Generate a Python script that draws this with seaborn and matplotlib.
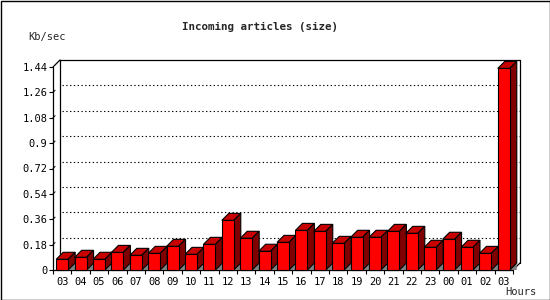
import matplotlib
matplotlib.use("Agg")
import matplotlib.pyplot as plt
import seaborn as sns
from matplotlib.patches import Polygon, Rectangle

sns.set_theme(style="white")
plt.rcParams["font.family"] = ["DejaVu Sans Mono"]

# Data
hours = ["03", "04", "05", "06", "07", "08", "09", "10", "11", "12", "13", "14", "15",
         "16", "17", "18", "19", "20", "21", "22", "23", "00", "01", "02", "03"]
kbsec = [0.076, 0.090, 0.076, 0.125, 0.104, 0.118, 0.168, 0.111, 0.182, 0.352, 0.225, 0.133, 0.196,
         0.281, 0.274, 0.189, 0.232, 0.232, 0.274, 0.260, 0.161, 0.218, 0.161, 0.118, 1.43]
yticks = [0, 0.18, 0.36, 0.54, 0.72, 0.9, 1.08, 1.26, 1.44]
ylabels = ["0", "0.18", "0.36", "0.54", "0.72", "0.9", "1.08", "1.26", "1.44"]
slots = list(range(len(hours)))

W, H = 550, 300
fig = plt.figure(figsize=(W / 100, H / 100), dpi=100)
fig.patch.set_facecolor("white")
fig.patches.append(Rectangle((0.5 / W, 0.5 / H), 1 - 1 / W, 1 - 1 / H, transform=fig.transFigure,
                             fill=False, edgecolor="black", linewidth=1.0))

# front plane of the 3d box, in pixels
x_left, x_right, y_bot, y_top = 53, 513, 270, 67
ax = fig.add_axes([x_left / W, (H - y_bot) / H, (x_right - x_left) / W, (y_bot - y_top) / H])
ax.set_facecolor("none")

sns.barplot(x=slots, y=kbsec, color="#ff0000", saturation=1, width=0.65,
            edgecolor="black", linewidth=0.8, ax=ax)
ax.set_xlim(-0.5, len(hours) - 0.5)
ax.set_ylim(0, 1.44)

# depth of the 3d effect (7 px) in data units
DX = 7 / ((x_right - x_left) / len(hours))
DY = 7 * 1.44 / (y_bot - y_top)

for i, p in enumerate(ax.patches):
    x0, w, h = p.get_x(), p.get_width(), p.get_height()
    z = 3 + 0.01 * i
    p.set_zorder(z + 0.005)
    p.set_clip_on(False)
    x1 = x0 + w
    ax.add_patch(Polygon([(x1, 0), (x1 + DX, DY), (x1 + DX, 0)], closed=True,
                         facecolor="#808080", edgecolor="none", zorder=z, clip_on=False))
    ax.add_patch(Polygon([(x0, h), (x1, h), (x1 + DX, h + DY), (x0 + DX, h + DY)], closed=True,
                         facecolor="#c80000", edgecolor="black", linewidth=0.8, zorder=z, clip_on=False))
    ax.add_patch(Polygon([(x1, 0), (x1, h), (x1 + DX, h + DY), (x1 + DX, DY)], closed=True,
                         facecolor="#800000", edgecolor="black", linewidth=0.8, zorder=z, clip_on=False))

# box walls
lo, hi = -0.5, len(hours) - 0.5
kw = dict(color="black", linewidth=0.9, clip_on=False, zorder=2)
ax.plot([lo, lo], [0, 1.44], **kw)
ax.plot([lo, hi], [0, 0], **kw)
ax.plot([lo, lo + DX], [1.44, 1.44 + DY], **kw)
ax.plot([lo + DX, hi + DX], [1.44 + DY, 1.44 + DY], **kw)
ax.plot([lo + DX, lo + DX], [DY, 1.44 + DY], **kw)
ax.plot([hi + DX, hi + DX], [DY, 1.44 + DY], **kw)
ax.plot([hi, hi + DX], [0, DY], **kw)
for t in yticks[1:-1]:
    ax.plot([lo + DX * 1.3, hi + DX], [t + DY, t + DY], color="black", linewidth=0.8,
            linestyle=(0, (1.2, 2.2)), clip_on=False, zorder=1)
    ax.plot([lo, lo + DX * 0.3], [t, t + DY * 0.3], color="black", linewidth=0.7, clip_on=False, zorder=2)

sns.despine(ax=ax, left=True, bottom=True)
ax.set_yticks(yticks)
ax.set_yticklabels(ylabels)
ax.set_xticks(slots)
ax.set_xticklabels(hours)
ax.set_xticks([s - 0.5 for s in slots] + [hi], minor=True)
ax.tick_params(axis="y", which="major", left=True, length=3, width=0.8, pad=1, labelsize=7.5,
               colors="black")
ax.tick_params(axis="x", which="major", bottom=False, length=0, pad=5, labelsize=7.5,
               labelcolor="black")
ax.tick_params(axis="x", which="minor", bottom=True, length=3, width=0.8, color="black")
ax.set_xlabel("")
ax.set_ylabel("")

fig.text(260.5 / W, 1 - 27 / H, "Incoming articles (size)", ha="center", va="center",
         fontsize=7.8, fontweight="bold")
fig.text(28 / W, 1 - 37 / H, "Kb/sec", ha="left", va="center", fontsize=7.5)
fig.text(505 / W, 1 - 292 / H, "Hours", ha="left", va="center", fontsize=7.5)

fig.savefig("out.png", dpi=100)
